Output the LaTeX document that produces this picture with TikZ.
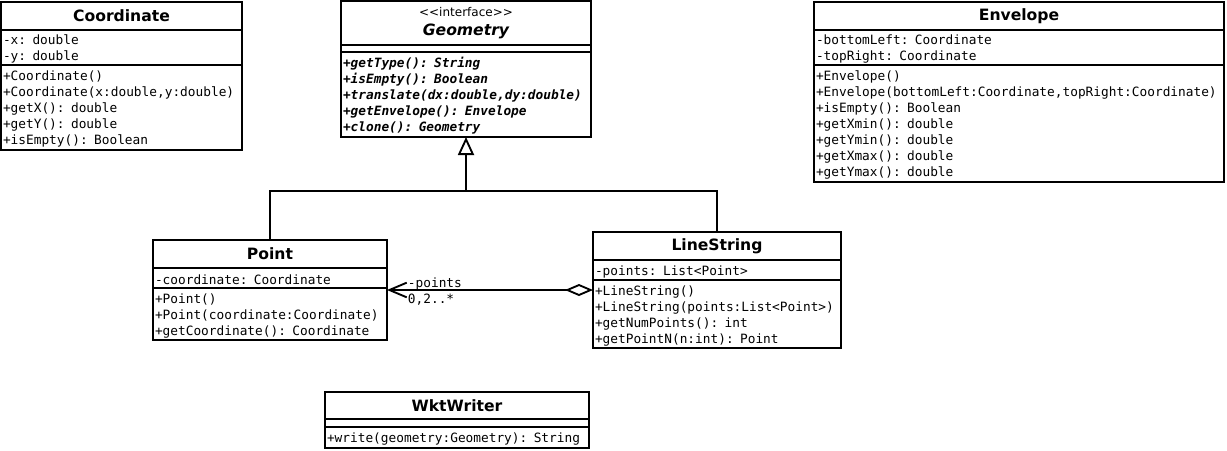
\documentclass[tikz,border=0pt]{standalone}
\usepackage{fontspec}
\setmonofont{DejaVu Sans Mono}
\newfontfamily\titlefont{DejaVu Sans}
\usetikzlibrary{arrows.meta,positioning}

\begin{document}
\begin{tikzpicture}[x=0.75pt,y=-0.75pt,line width=1.4pt,
    classname/.style={draw,outer sep=0pt,anchor=north west,inner sep=0pt,align=center,
      minimum width=#1,font=\titlefont\bfseries\fontsize{11.7}{14}\selectfont},
    members/.style={draw,outer sep=0pt,anchor=north west,inner xsep=1.5pt,inner ysep=0pt,
      text width=#1,align=left,font=\ttfamily\fontsize{9.6}{12}\selectfont,
      execute at begin node={\rule{0pt}{9.6pt}}},
    spacer/.style={draw,outer sep=0pt,anchor=north west,inner sep=0pt,minimum width=#1},
    rolelabel/.style={inner sep=0pt,anchor=base west,font=\ttfamily\fontsize{9.6}{12}\selectfont}]
  \useasboundingbox (0,0) rectangle (1227,450);
  % Coordinate
  \node[classname=180.75pt,minimum height=21pt] (coordT) at (1,2) {Coordinate};
  \node[members=177.75pt,minimum height=26.25pt] (coordA) at (coordT.south west)
    {-x: double\\-y: double};
  \node[members=177.75pt,minimum height=63.75pt] (coordM) at (coordA.south west)
    {+Coordinate()\\+Coordinate(x:double,y:double)\\+getX(): double\\+getY(): double\\+isEmpty(): Boolean};
  % Geometry
  \node[classname=187.5pt,minimum height=33pt] (geomT) at (341,1)
    {{\mdseries\fontsize{9}{13.5}\selectfont{<}{<}interface{>}{>}}\\\itshape Geometry};
  \node[spacer=187.5pt,minimum height=5.25pt] (geomA) at (geomT.south west) {};
  \node[members=184.5pt,minimum height=63.75pt,font=\ttfamily\bfseries\itshape\fontsize{9.6}{12}\selectfont]
    (geomM) at (geomA.south west)
    {+getType(): String\\+isEmpty(): Boolean\\+translate(dx:double,dy:double)\\+getEnvelope(): Envelope\\+clone(): Geometry};
  % Envelope
  \node[classname=307.5pt,minimum height=21pt] (envT) at (814,2) {Envelope};
  \node[members=304.5pt,minimum height=26.25pt] (envA) at (envT.south west)
    {-bottomLeft: Coordinate\\-topRight: Coordinate};
  \node[members=304.5pt,minimum height=87.75pt] (envM) at (envA.south west)
    {+Envelope()\\+Envelope(bottomLeft:Coordinate,topRight:Coordinate)\\+isEmpty(): Boolean\\+getXmin(): double\\+getYmin(): double\\+getXmax(): double\\+getYmax(): double};
  % Point
  \node[classname=175.5pt,minimum height=21pt] (pointT) at (153,240) {Point};
  \node[members=172.5pt,minimum height=15pt] (pointA) at (pointT.south west)
    {-coordinate: Coordinate};
  \node[members=172.5pt,minimum height=39pt] (pointM) at (pointA.south west)
    {+Point()\\+Point(coordinate:Coordinate)\\+getCoordinate(): Coordinate};
  % LineString
  \node[classname=186pt,minimum height=21pt] (lsT) at (593,232) {LineString};
  \node[members=183pt,minimum height=15pt] (lsA) at (lsT.south west)
    {-points: List<Point>};
  \node[members=183pt,minimum height=51pt] (lsM) at (lsA.south west)
    {+LineString()\\+LineString(points:List<Point>)\\+getNumPoints(): int\\+getPointN(n:int): Point};
  % WktWriter
  \node[classname=198pt,minimum height=20.25pt] (wktT) at (325,392) {WktWriter};
  \node[spacer=198pt,minimum height=6pt] (wktA) at (wktT.south west) {};
  \node[members=195pt,minimum height=15.75pt] (wktM) at (wktA.south west)
    {+write(geometry:Geometry): String};
  % generalisation
  \coordinate (hub) at (geomM.south |- 0,191);
  \draw[-{Triangle[open,length=13.5pt,width=12pt]}] (pointT.north) |- (hub) -- (geomM.south);
  \draw (lsT.north) |- (hub);
  % aggregation
  \coordinate (aggEnd) at ([yshift=-7.5pt]lsM.north west);
  \draw[{Diamond[open,length=21pt,width=9pt]}-{Straight Barb[length=13pt,width=11pt]}]
    (aggEnd) -- (aggEnd -| pointM.east);
  \node[rolelabel] (role) at (407,287) {-points};
  \node[rolelabel] (mult) at (407,303.5) {0,2..*};
\end{tikzpicture}
\end{document}
